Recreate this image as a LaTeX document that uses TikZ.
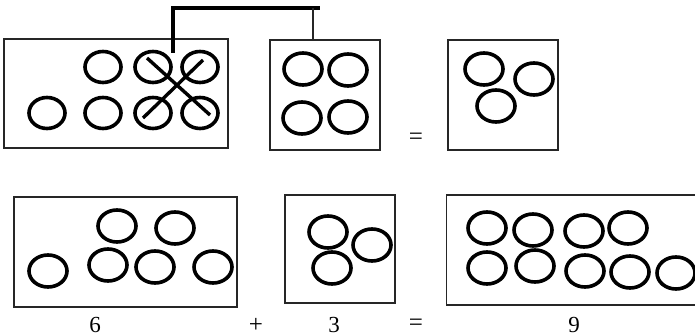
\documentclass[tikz,border=0pt]{standalone}
\usepackage{fontspec}
\setmainfont{Liberation Serif}
\usetikzlibrary{shapes.geometric}
\begin{document}
\begin{tikzpicture}[x=1pt,y=-1pt,
  box/.style={draw=black!85,line width=1.3pt,rectangle,inner sep=0pt},
  dot/.style={draw=black,line width=3.6pt,ellipse,inner sep=0pt,minimum width=36pt,minimum height=31pt},
  bigdot/.style={dot,minimum width=38pt,minimum height=32pt},
  cross/.style={draw=black,line width=3.4pt},
  link/.style={draw=black,line width=4.5pt},
  thinlink/.style={draw=black!85,line width=1.3pt},
  lbl/.style={font=\fontsize{23}{23}\selectfont,inner sep=0pt},
  op/.style={font=\fontsize{25}{25}\selectfont,inner sep=0pt}]
\useasboundingbox (0,0) rectangle (695,336);
% top row boxes
\node[box,minimum width=224pt,minimum height=109pt] (b1) at (116,93.5) {};
\node[box,minimum width=110pt,minimum height=110pt] (b2) at (325,95) {};
\node[box,minimum width=110pt,minimum height=110pt] (b3) at (503,95) {};
% box 1 circles
\node[dot] (a1) at (103,67) {};
\node[dot] (a2) at (153,67) {};
\node[dot] (a3) at (200,67) {};
\node[dot] (a4) at (47,113) {};
\node[dot] (a5) at (103,113) {};
\node[dot] (a6) at (153,113) {};
\node[dot] (a7) at (200,113) {};
% cross
\coordinate (x1) at (147,58);
\coordinate (x2) at (210,115);
\coordinate (x3) at (143,118);
\coordinate (x4) at (203,60);
\draw[cross] (x1) -- (x2);
\draw[cross] (x3) -- (x4);
% connector
\coordinate (xt) at (173,53);
\coordinate (jr) at (320,8);
\coordinate (jn) at (313,8);
\draw[link] (xt) |- (jr);
\draw[thinlink] (jn) -- (jn |- b2.north);
% box 2 circles
\node[bigdot] (c1) at (303,69) {};
\node[bigdot] (c2) at (348,70) {};
\node[bigdot] (c3) at (302,118) {};
\node[bigdot] (c4) at (348,117) {};
% equals top
\node[op] (eq1) at (416,139) {=};
% box 3 circles
\node[bigdot] (d1) at (484,69) {};
\node[bigdot] (d2) at (534,79) {};
\node[bigdot] (d3) at (496,106) {};
% bottom row boxes
\node[box,minimum width=223pt,minimum height=110pt] (b4) at (125.5,252) {};
\node[box,minimum width=110pt,minimum height=108pt] (b5) at (340,249) {};
\node[box,minimum width=260pt,minimum height=110pt,anchor=west] (b6) at (446,250) {};
% box 4 circles
\node[bigdot] (e1) at (117,226) {};
\node[bigdot] (e2) at (175,228) {};
\node[bigdot] (e3) at (48,271) {};
\node[bigdot] (e4) at (108,265) {};
\node[bigdot] (e5) at (155,267) {};
\node[bigdot] (e6) at (213,267) {};
% box 5 circles
\node[bigdot] (f1) at (328,232) {};
\node[bigdot] (f2) at (372,245) {};
\node[bigdot] (f3) at (332,268) {};
% box 6 circles
\node[bigdot] (g1) at (487,228) {};
\node[bigdot] (g2) at (533,230) {};
\node[bigdot] (g3) at (584,231) {};
\node[bigdot] (g4) at (628,228) {};
\node[bigdot] (g5) at (487,268) {};
\node[bigdot] (g6) at (535,266) {};
\node[bigdot] (g7) at (585,271) {};
\node[bigdot] (g8) at (630,272) {};
\node[bigdot] (g9) at (676,273) {};
% labels
\node[lbl] (n6) at (95,325) {6};
\node[op] (plus) at (256,325) {+};
\node[lbl] (n3) at (334,325) {3};
\node[op] (eq2) at (416,325) {=};
\node[lbl] (n9) at (574,325) {9};
\end{tikzpicture}
\end{document}
